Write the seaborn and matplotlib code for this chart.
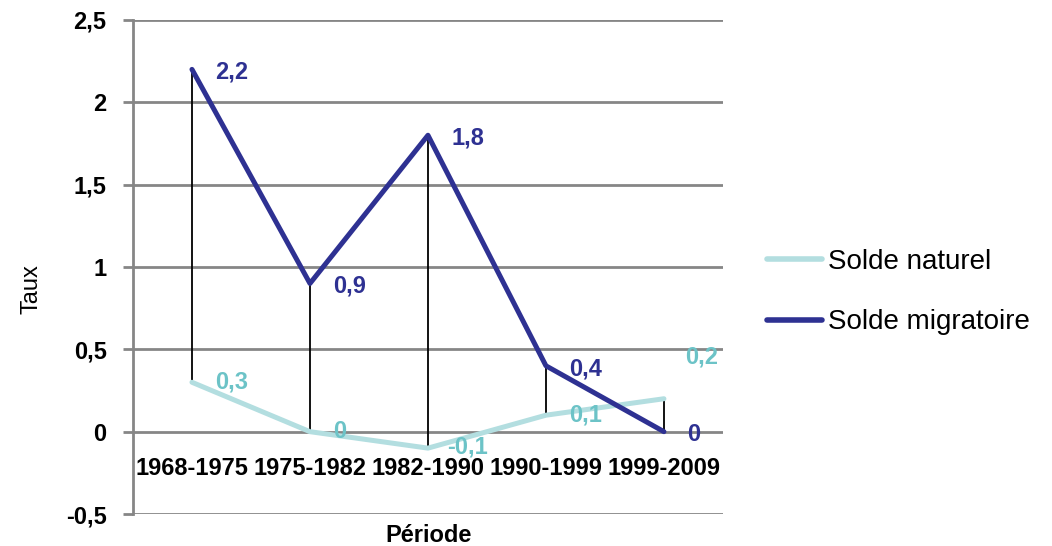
import matplotlib
matplotlib.use("Agg")
import matplotlib.pyplot as plt
import seaborn as sns
import pandas as pd

periodes = ["1968-1975", "1975-1982", "1982-1990", "1990-1999", "1999-2009"]
solde_naturel = [0.3, 0.0, -0.1, 0.1, 0.2]
solde_migratoire = [2.2, 0.9, 1.8, 0.4, 0.0]
series = ["Solde naturel", "Solde migratoire"]
y_ticks = [-0.5, 0, 0.5, 1, 1.5, 2, 2.5]

sns.set_theme(style="white")
plt.rcParams["font.family"] = ["Liberation Sans", "DejaVu Sans"]

c_nat_line = "#B3DEE0"
c_nat_text = "#6CC3C7"
c_mig = "#2E3192"
c_grid = "#868686"


def fmt(v):
    return ("%g" % v).replace(".", ",")


df = pd.DataFrame({
    "x": list(range(len(periodes))) * 2,
    "Taux": solde_naturel + solde_migratoire,
    "Série": [series[0]] * len(periodes) + [series[1]] * len(periodes),
})

fig = plt.figure(figsize=(10.52, 5.46), dpi=100)
ax = fig.add_axes([0.1264, 0.0586, 0.5608, 0.9048])

# high-low lines between the two series
ax.vlines(range(len(periodes)), solde_naturel, solde_migratoire,
          colors="black", linewidth=1.3, zorder=2)

sns.lineplot(data=df, x="x", y="Taux", hue="Série", hue_order=series,
             palette=[c_nat_line, c_mig], linewidth=3.6, ax=ax, zorder=3,
             legend=True)

# category labels sit just under the zero line
ax.spines["bottom"].set_position(("data", 0))
ax.spines["bottom"].set_visible(False)
ax.spines["top"].set_visible(False)
ax.spines["right"].set_visible(False)
ax.spines["left"].set_color(c_grid)
ax.spines["left"].set_linewidth(2)

ax.set_xlim(-0.5, len(periodes) - 0.5)
ax.set_ylim(-0.5, 2.5)
ax.set_yticks(y_ticks)
ax.set_yticklabels([fmt(v) for v in y_ticks], fontsize=17, color="black",
                   fontweight="bold")
ax.set_xticks(range(len(periodes)))
ax.set_xticklabels(periodes, fontsize=17, color="black", fontweight="bold")

ax.grid(axis="y", color=c_grid, linewidth=2)
ax.grid(axis="x", visible=False)
ax.set_axisbelow(True)
ax.tick_params(axis="y", length=7, width=2, color=c_grid, pad=12, left=True)
ax.tick_params(axis="x", length=0, pad=18)

ax.set_xlabel("")
ax.set_ylabel("")
fig.text(0.030, 0.47, "Taux", rotation=90, fontsize=17, ha="center",
         va="center", color="black")
fig.text(0.407, 0.02, "Période", fontsize=17, ha="center", va="center",
         fontweight="bold", color="black")

for i, v in enumerate(solde_migratoire):
    ax.annotate(fmt(v), (i, v), xytext=(17, -2), textcoords="offset points",
                ha="left", va="center", fontsize=17, color=c_mig, fontweight="bold")

nat_offsets = [(17, 0), (17, 0), (14, 1), (17, 0), (15, 30)]
for i, v in enumerate(solde_naturel):
    ax.annotate(fmt(v), (i, v), xytext=nat_offsets[i], textcoords="offset points",
                ha="left", va="center", fontsize=17, color=c_nat_text, fontweight="bold")

handles, labels = ax.get_legend_handles_labels()
leg = ax.legend(handles, labels, loc="center left", bbox_to_anchor=(0.705, 0.465),
                bbox_transform=fig.transFigure, frameon=False, fontsize=20,
                handlelength=2.0, handletextpad=0.2, labelspacing=1.25)
for line in leg.get_lines():
    line.set_linewidth(4)
for t in leg.get_texts():
    t.set_color("black")

fig.savefig("out.png", dpi=100)
